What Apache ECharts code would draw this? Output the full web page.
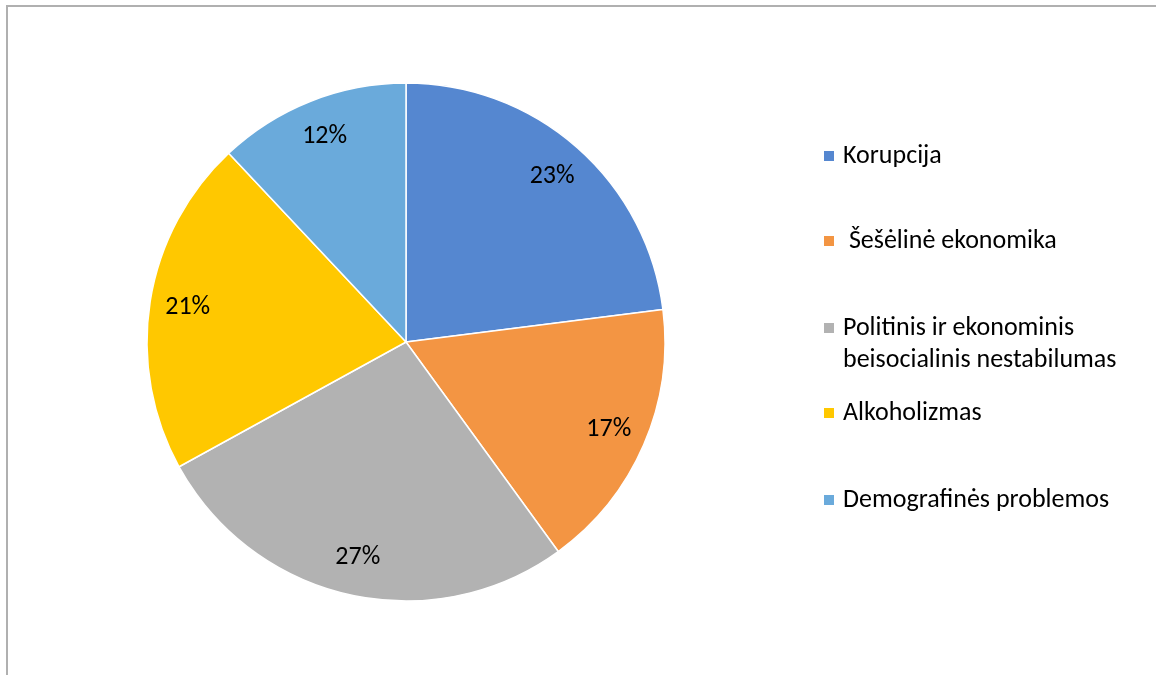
<!DOCTYPE html>
<html>
<head>
<meta charset="utf-8">
<script src="https://cdn.jsdelivr.net/npm/echarts@6/dist/echarts.min.js"></script>
<style>
html,body{margin:0;padding:0;background:#fff;}
#chart{width:1156px;height:675px;}
</style>
</head>
<body>
<div id="chart"></div>
<script>
const categories = ['Korupcija', ' Šešėlinė ekonomika', 'Politinis ir ekonominis\nbeisocialinis nestabilumas', 'Alkoholizmas', 'Demografinės problemos'];
const values = [23, 17, 27, 21, 12];
const colors = ['#5587D0', '#F39543', '#B2B2B2', '#FFC800', '#6AAADB'];
const legendCenters = [156, 241, 328, 413, 500];

const FONT = 'Carlito, Lato, "Open Sans", sans-serif';
const data = categories.map((c, i) => ({ name: c, value: values[i], itemStyle: { color: colors[i] } }));

const legends = categories.map((c, i) => {
  const multi = c.indexOf('\n') >= 0;
  return {
    show: true,
    data: [c],
    orient: 'vertical',
    left: 822,
    top: multi ? legendCenters[i] - 48 : legendCenters[i] - 16,
    padding: 0,
    itemWidth: 12,
    itemHeight: 12,
    icon: 'rect',
    selectedMode: false,
    formatter: multi ? (n => '\n' + n) : (n => n),
    textStyle: {
      fontFamily: FONT,
      fontSize: 26,
      color: '#000',
      lineHeight: 32,
      padding: [0, 0, 0, 3]
    }
  };
});

const chart = echarts.init(document.getElementById('chart'), null, { renderer: 'canvas' });
chart.setOption({
  backgroundColor: '#fff',
  animation: false,
  graphic: [{
    type: 'rect',
    shape: { x: 7, y: 6, width: 1300, height: 800 },
    style: { fill: 'none', stroke: '#b0b0b0', lineWidth: 2 },
    silent: true
  }],
  legend: legends,
  series: [{
    type: 'pie',
    center: [406, 342],
    radius: [0, 259],
    startAngle: 90,
    clockwise: true,
    label: { show: false },
    labelLine: { show: false },
    itemStyle: { borderColor: '#fff', borderWidth: 1.5 },
    data: data
  }, {
    type: 'pie',
    center: [406, 342],
    radius: [177, 259],
    startAngle: 90,
    clockwise: true,
    silent: true,
    legendHoverLink: false,
    itemStyle: { color: 'rgba(0,0,0,0)', borderWidth: 0 },
    label: {
      show: true,
      position: 'inside',
      formatter: '{d}%',
      fontFamily: FONT,
      fontSize: 26,
      color: '#000'
    },
    labelLine: { show: false },
    data: categories.map((c, i) => ({ name: c + '__lbl', value: values[i] }))
  }]
});
</script>
</body>
</html>
